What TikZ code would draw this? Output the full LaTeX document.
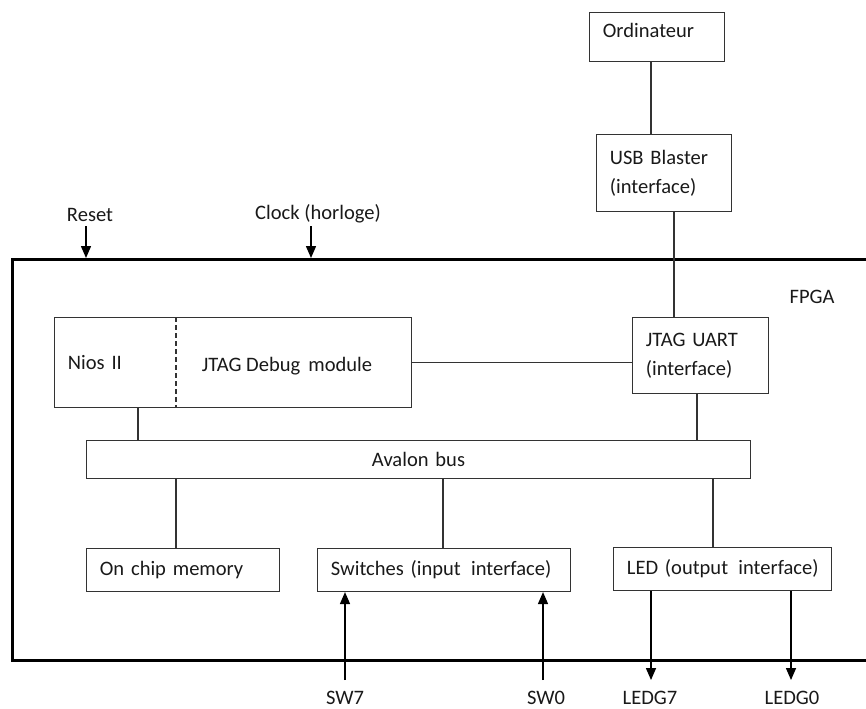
\documentclass[tikz,border=0pt]{standalone}
\usepackage{fontspec}
\setmainfont{Carlito}
\usetikzlibrary{arrows.meta}
\begin{document}
\begin{tikzpicture}[x=0.75pt,y=-0.75pt,
  every node/.style={font=\fontsize{15.4}{21.75}\selectfont, text=black!90},
  box/.style={draw=black!80, line width=0.8pt, rectangle, anchor=north west, align=left, inner xsep=10pt, inner ysep=0pt},
  lbl/.style={inner sep=0.5pt},
  conn/.style={draw=black!80, line width=0.8pt},
  arr/.style={draw=black, line width=1.1pt, -{Triangle[length=9pt,width=7.5pt]}},
  fpgabox/.style={draw=black, line width=2.3pt, rectangle, anchor=north west, inner sep=0pt}]
\useasboundingbox (0,0) rectangle (866,708);
\clip (0,0) rectangle (866,708);
% outer FPGA
\node[fpgabox, minimum width=675pt, minimum height=300.75pt] (fpga) at (11,258) {};
\node[lbl] (fpgalbl) at (812,297) {FPGA};
% external boxes
\node[box, minimum width=101.25pt, minimum height=36.75pt, text width=81.25pt, text depth=10pt] (ord) at (589,12) {\mbox{Ordinateur}};
\node[box, minimum width=101.25pt, minimum height=57.75pt, text width=81.25pt] (usb) at (596,134) {USB Blaster\\(interface)};
% inner boxes
\node[box, minimum width=267.75pt, minimum height=67.5pt, text width=247.75pt] (nios) at (54,317) {Nios II};
\node[lbl, anchor=west] (jdbg) at (201,366) {JTAG Debug\, module};
\node[box, minimum width=102pt, minimum height=57pt, text width=82pt] (juart) at (632,317) {JTAG UART\\(interface)};
\node[box, minimum width=498pt, minimum height=28.5pt, align=center, text width=478pt] (avalon) at (86,440) {Avalon bus};
\node[box, minimum width=144.75pt, minimum height=32.25pt, text width=124.75pt] (mem) at (86,548) {\mbox{On chip memory}};
\node[box, minimum width=189.75pt, minimum height=32.25pt, text width=169.75pt] (sw) at (317,548) {\mbox{Switches (input\, interface)}};
\node[box, minimum width=163.5pt, minimum height=32.25pt, text width=143.5pt] (led) at (613,547) {\mbox{LED (output\, interface)}};
% dashed divider in Nios box
\coordinate (xdiv) at (176,0);
\draw[black!80, line width=0.8pt, dash pattern=on 4pt off 2pt] (nios.north -| xdiv) -- (nios.south -| xdiv);
% labels
\node[lbl] (reset) at (90,215) {Reset};
\node[lbl] (clock) at (318,214) {Clock (horloge)};
\node[lbl] (sw7) at (345,698) {SW7};
\node[lbl] (sw0) at (546,698) {SW0};
\node[lbl] (ledg7) at (650,698) {LEDG7};
\node[lbl] (ledg0) at (792,698) {LEDG0};
% helper x coordinates
\coordinate (x86) at (86,0);
\coordinate (x311) at (311,0);
\coordinate (x651) at (651,0);
\coordinate (x674) at (674,0);
\coordinate (x138) at (138,0);
\coordinate (x697) at (697,0);
\coordinate (x176) at (176,0);
\coordinate (x443) at (443,0);
\coordinate (x713) at (713,0);
\coordinate (x345) at (345,0);
\coordinate (x543) at (543,0);
\coordinate (x791) at (791,0);
\coordinate (ytop) at (0,226);
\coordinate (ybot) at (0,680);
% connectors
\draw[conn] (ord.south -| x651) -- (usb.north -| x651);
\draw[conn] (usb.south -| x674) -- (juart.north -| x674);
\draw[conn] (nios.east) -- (nios.east -| juart.west);
\draw[conn] (nios.south -| x138) -- (avalon.north -| x138);
\draw[conn] (juart.south -| x697) -- (avalon.north -| x697);
\draw[conn] (avalon.south -| x176) -- (mem.north -| x176);
\draw[conn] (avalon.south -| x443) -- (sw.north -| x443);
\draw[conn] (avalon.south -| x713) -- (led.north -| x713);
% arrows
\draw[arr] (ytop -| x86) -- (fpga.north -| x86);
\draw[arr] (ytop -| x311) -- (fpga.north -| x311);
\draw[arr] (ybot -| x345) -- (sw.south -| x345);
\draw[arr] (ybot -| x543) -- (sw.south -| x543);
\draw[arr] (led.south -| x651) -- (ybot -| x651);
\draw[arr] (led.south -| x791) -- (ybot -| x791);
\end{tikzpicture}
\end{document}
